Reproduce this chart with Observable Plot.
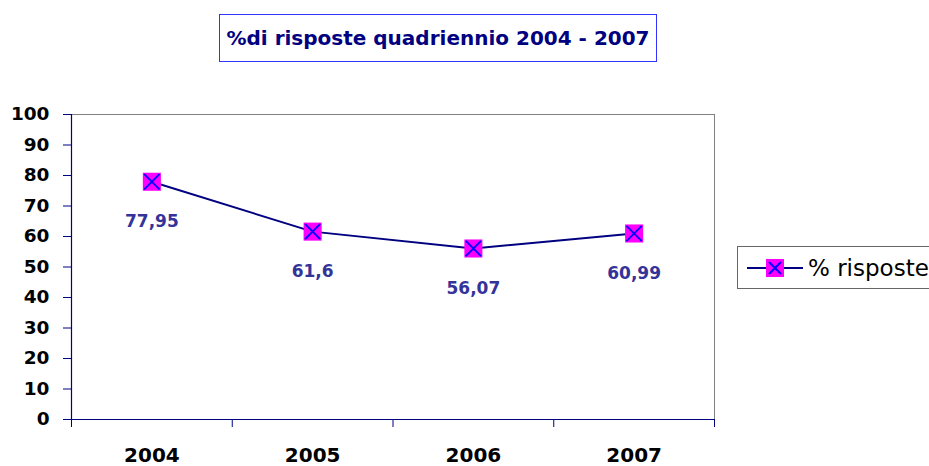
<!DOCTYPE html>
<html>
<head>
<meta charset="utf-8">
<script src="https://cdn.jsdelivr.net/npm/d3@7"></script>
<script src="https://cdn.jsdelivr.net/npm/@observablehq/plot@0.6"></script>
<style>
  html, body { margin: 0; padding: 0; background: #fff; overflow: hidden; }
  body { width: 929px; height: 466px; position: relative; font-family: "DejaVu Sans", Arial, sans-serif; }
  #title { position: absolute; left: 219px; top: 14px; width: 436px; height: 46px; border: 1px solid #3333ff;
    display: flex; align-items: center; justify-content: center; font-weight: bold; font-size: 20px; color: #000080; box-sizing: content-box; }
  #legend { position: absolute; left: 737px; top: 246px; width: 240px; height: 41px; border: 1px solid #666;
    display: flex; align-items: center; font-size: 23px; color: #000; white-space: nowrap; }
  #legend svg { margin-left: 9px; margin-right: 4px; flex: none; }
  #chart { position: absolute; left: 0; top: 0; }
</style>
</head>
<body>
<div id="chart"></div>
<div id="title">%di risposte quadriennio 2004 - 2007</div>
<div id="legend"><svg width="57" height="20"><line x1="0" y1="10" x2="56" y2="10" stroke="#000080" stroke-width="2"/><rect x="19" y="1" width="18" height="18" fill="#ff00ff"/><path d="M22,4L34,16M34,4L22,16" stroke="#0000ff" stroke-width="2"/></svg><span>% risposte</span></div>
<script>
const years = [2004, 2005, 2006, 2007];
const values = [77.95, 61.6, 56.07, 60.99];
const yTicks = [0, 10, 20, 30, 40, 50, 60, 70, 80, 90, 100];
const seriesName = "% risposte";

const data = years.map((y, i) => ({year: y, value: values[i]}));
const boundaries = [years[0] - 0.5, ...years.map(y => y + 0.5)];
const fmt = v => String(v).replace(".", ",");

const chart = Plot.plot({
  width: 929,
  height: 466,
  marginLeft: 71,
  marginRight: 215,
  marginTop: 114,
  marginBottom: 47,
  style: {fontFamily: '"DejaVu Sans", Arial, sans-serif', background: "transparent"},
  x: {type: "linear", domain: [years[0] - 0.5, years[years.length - 1] + 0.5]},
  y: {domain: [0, 100]},
  marks: [
    Plot.frame({stroke: "#808080", strokeWidth: 1}),
    Plot.axisY({ticks: yTicks, tickSize: 8, tickPadding: 14, stroke: "#000080", fill: "#000", fontSize: 18.5, fontWeight: "bold", label: null}),
    Plot.axisX({ticks: years, tickSize: 0, tickPadding: 28, tickFormat: d => String(d), fill: "#000", fontSize: 20, fontWeight: "bold", label: null}),
    Plot.axisX({ticks: boundaries, tickSize: 8, tickFormat: () => "", stroke: "#000080", label: null}),
    Plot.ruleY([0], {stroke: "#000080", strokeWidth: 1.2, x1: years[0] - 0.5 - 0.03, x2: years[years.length - 1] + 0.5}),
    Plot.ruleX([years[0] - 0.5], {stroke: "#000080", strokeWidth: 1.2}),
    Plot.line(data, {x: "year", y: "value", stroke: "#000080", strokeWidth: 2}),
    Plot.dot(data, {x: "year", y: "value", symbol: "square", r: 10.2, fill: "#ff00ff", stroke: "none"}),
    Plot.dot(data, {x: "year", y: "value", symbol: "times", r: 7, stroke: "#0000ff", strokeWidth: 1.8, fill: "none"}),
    Plot.text(data, {x: "year", y: "value", text: d => fmt(d.value), dy: 40, fill: "#333399", fontSize: 17, fontWeight: "bold"})
  ]
});
document.getElementById("chart").appendChild(chart);
</script>
</body>
</html>
